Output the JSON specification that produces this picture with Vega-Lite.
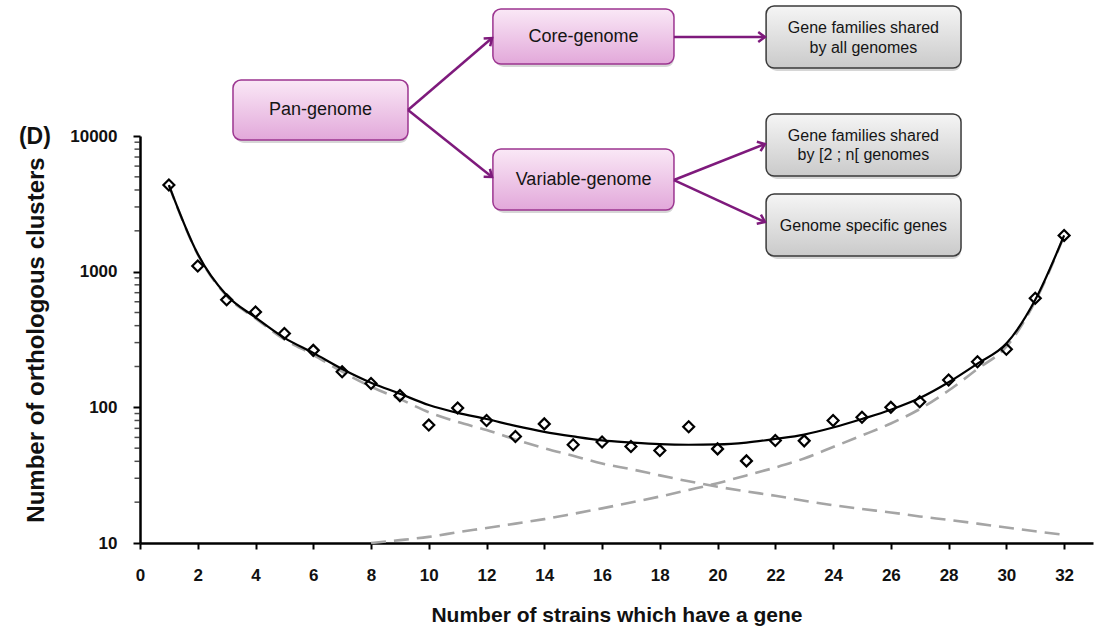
{
  "$schema": "https://vega.github.io/schema/vega-lite/v6.json",
  "width": 953,
  "height": 407,
  "autosize": {"type": "none"},
  "padding": {"left": 140, "top": 136, "right": 9, "bottom": 85},
  "background": "white",
  "config": {
    "view": {"stroke": null},
    "font": "Liberation Sans",
    "axis": {"grid": false, "domainColor": "#000", "tickColor": "#000", "labelColor": "#111", "titleColor": "#111"}
  },
  "datasets": {
    "points": [
      {"strains": 1, "clusters": 4350}, {"strains": 2, "clusters": 1100}, {"strains": 3, "clusters": 620},
      {"strains": 4, "clusters": 505}, {"strains": 5, "clusters": 350}, {"strains": 6, "clusters": 263},
      {"strains": 7, "clusters": 183}, {"strains": 8, "clusters": 150}, {"strains": 9, "clusters": 122},
      {"strains": 10, "clusters": 74}, {"strains": 11, "clusters": 99}, {"strains": 12, "clusters": 80},
      {"strains": 13, "clusters": 61}, {"strains": 14, "clusters": 75.5}, {"strains": 15, "clusters": 53},
      {"strains": 16, "clusters": 55.5}, {"strains": 17, "clusters": 51.5}, {"strains": 18, "clusters": 48},
      {"strains": 19, "clusters": 72}, {"strains": 20, "clusters": 49.4}, {"strains": 21, "clusters": 40.3},
      {"strains": 22, "clusters": 57}, {"strains": 23, "clusters": 56.6}, {"strains": 24, "clusters": 80},
      {"strains": 25, "clusters": 84.5}, {"strains": 26, "clusters": 100}, {"strains": 27, "clusters": 110},
      {"strains": 28, "clusters": 159}, {"strains": 29, "clusters": 217}, {"strains": 30, "clusters": 268},
      {"strains": 31, "clusters": 637}, {"strains": 32, "clusters": 1850}
    ],
    "fit": [
      {"strains": 1, "clusters": 4350}, {"strains": 2, "clusters": 1350}, {"strains": 3, "clusters": 670},
      {"strains": 4, "clusters": 460}, {"strains": 5, "clusters": 325}, {"strains": 6, "clusters": 252},
      {"strains": 7, "clusters": 192}, {"strains": 8, "clusters": 152}, {"strains": 9, "clusters": 126},
      {"strains": 10, "clusters": 104}, {"strains": 11, "clusters": 91}, {"strains": 12, "clusters": 82},
      {"strains": 13, "clusters": 73}, {"strains": 14, "clusters": 66}, {"strains": 15, "clusters": 61},
      {"strains": 16, "clusters": 57}, {"strains": 17, "clusters": 55}, {"strains": 18, "clusters": 53.5},
      {"strains": 19, "clusters": 53}, {"strains": 20, "clusters": 53.3}, {"strains": 21, "clusters": 55},
      {"strains": 22, "clusters": 58.5}, {"strains": 23, "clusters": 63}, {"strains": 24, "clusters": 71},
      {"strains": 25, "clusters": 82}, {"strains": 26, "clusters": 96}, {"strains": 27, "clusters": 117},
      {"strains": 28, "clusters": 153}, {"strains": 29, "clusters": 210}, {"strains": 30, "clusters": 295},
      {"strains": 31, "clusters": 620}, {"strains": 32, "clusters": 1850}
    ],
    "components": [
      {"series": "decreasing", "strains": 1, "clusters": 4345}, {"series": "decreasing", "strains": 2, "clusters": 1340},
      {"series": "decreasing", "strains": 3, "clusters": 662}, {"series": "decreasing", "strains": 4, "clusters": 452},
      {"series": "decreasing", "strains": 5, "clusters": 317}, {"series": "decreasing", "strains": 6, "clusters": 244},
      {"series": "decreasing", "strains": 7, "clusters": 183}, {"series": "decreasing", "strains": 8, "clusters": 142},
      {"series": "decreasing", "strains": 9, "clusters": 115}, {"series": "decreasing", "strains": 10, "clusters": 92},
      {"series": "decreasing", "strains": 11, "clusters": 78}, {"series": "decreasing", "strains": 12, "clusters": 68},
      {"series": "decreasing", "strains": 13, "clusters": 58}, {"series": "decreasing", "strains": 14, "clusters": 50},
      {"series": "decreasing", "strains": 15, "clusters": 44}, {"series": "decreasing", "strains": 16, "clusters": 38.5},
      {"series": "decreasing", "strains": 17, "clusters": 35}, {"series": "decreasing", "strains": 18, "clusters": 31.5},
      {"series": "decreasing", "strains": 19, "clusters": 28.5}, {"series": "decreasing", "strains": 20, "clusters": 26},
      {"series": "decreasing", "strains": 21, "clusters": 24}, {"series": "decreasing", "strains": 22, "clusters": 22.3},
      {"series": "decreasing", "strains": 23, "clusters": 20.5}, {"series": "decreasing", "strains": 24, "clusters": 19},
      {"series": "decreasing", "strains": 25, "clusters": 17.8}, {"series": "decreasing", "strains": 26, "clusters": 16.8},
      {"series": "decreasing", "strains": 27, "clusters": 15.7}, {"series": "decreasing", "strains": 28, "clusters": 14.8},
      {"series": "decreasing", "strains": 29, "clusters": 13.9}, {"series": "decreasing", "strains": 30, "clusters": 13},
      {"series": "decreasing", "strains": 31, "clusters": 12.2}, {"series": "decreasing", "strains": 32, "clusters": 11.5},
      {"series": "increasing", "strains": 8, "clusters": 10}, {"series": "increasing", "strains": 9, "clusters": 10.5},
      {"series": "increasing", "strains": 10, "clusters": 11.1}, {"series": "increasing", "strains": 11, "clusters": 12},
      {"series": "increasing", "strains": 12, "clusters": 12.9}, {"series": "increasing", "strains": 13, "clusters": 13.9},
      {"series": "increasing", "strains": 14, "clusters": 15}, {"series": "increasing", "strains": 15, "clusters": 16.4},
      {"series": "increasing", "strains": 16, "clusters": 18}, {"series": "increasing", "strains": 17, "clusters": 19.9},
      {"series": "increasing", "strains": 18, "clusters": 22}, {"series": "increasing", "strains": 19, "clusters": 24.6},
      {"series": "increasing", "strains": 20, "clusters": 27.6}, {"series": "increasing", "strains": 21, "clusters": 31.5},
      {"series": "increasing", "strains": 22, "clusters": 36}, {"series": "increasing", "strains": 23, "clusters": 42},
      {"series": "increasing", "strains": 24, "clusters": 51}, {"series": "increasing", "strains": 25, "clusters": 62},
      {"series": "increasing", "strains": 26, "clusters": 76}, {"series": "increasing", "strains": 27, "clusters": 97},
      {"series": "increasing", "strains": 28, "clusters": 133}, {"series": "increasing", "strains": 29, "clusters": 192},
      {"series": "increasing", "strains": 30, "clusters": 280}, {"series": "increasing", "strains": 31, "clusters": 605},
      {"series": "increasing", "strains": 32, "clusters": 1835}
    ],
    "minorTicks": [
      {"clusters": 20}, {"clusters": 30}, {"clusters": 40}, {"clusters": 50}, {"clusters": 60}, {"clusters": 70}, {"clusters": 80}, {"clusters": 90},
      {"clusters": 200}, {"clusters": 300}, {"clusters": 400}, {"clusters": 500}, {"clusters": 600}, {"clusters": 700}, {"clusters": 800}, {"clusters": 900},
      {"clusters": 2000}, {"clusters": 3000}, {"clusters": 4000}, {"clusters": 5000}, {"clusters": 6000}, {"clusters": 7000}, {"clusters": 8000}, {"clusters": 9000}
    ],
    "pinkBoxes": [
      {"x": 3.22, "x2": 9.28, "y": 9344, "y2": 25860, "lx": 6.25, "ly": 15546, "label": "Pan-genome"},
      {"x": 12.22, "x2": 18.49, "y": 33930, "y2": 86300, "lx": 15.36, "ly": 53650, "label": "Core-genome"},
      {"x": 12.22, "x2": 18.49, "y": 2848, "y2": 8018, "lx": 15.36, "ly": 4738, "label": "Variable-genome"}
    ],
    "grayBoxes": [
      {"x": 21.68, "x2": 28.43, "y": 31710, "y2": 90820},
      {"x": 21.68, "x2": 28.43, "y": 5071, "y2": 14527},
      {"x": 21.68, "x2": 28.43, "y": 1305, "y2": 3736}
    ],
    "grayText": [
      {"tx": 25.05, "ty": 62520, "text": "Gene families shared"},
      {"tx": 25.05, "ty": 44520, "text": "by all genomes"},
      {"tx": 25.05, "ty": 10000, "text": "Gene families shared"},
      {"tx": 25.05, "ty": 7244, "text": "by  [2 ; n[ genomes"},
      {"tx": 25.05, "ty": 2170, "text": "Genome specific genes"}
    ],
    "arrows": [
      {"x": 9.28, "y": 15546, "x2": 12.19, "y2": 52770, "angle": -40.6},
      {"x": 9.28, "y": 15546, "x2": 12.19, "y2": 4986, "angle": 38.6},
      {"x": 18.49, "y": 53650, "x2": 21.64, "y2": 53650, "angle": 0},
      {"x": 18.49, "y": 4738, "x2": 21.64, "y2": 8730, "angle": -21.4},
      {"x": 18.49, "y": 4738, "x2": 21.64, "y2": 2323, "angle": 24.5}
    ],
    "panel": [{"x": -3.64, "y": 9830, "text": "(D)"}]
  },
  "resolve": {"axis": {"x": "independent", "y": "independent"}},
  "layer": [
    {
      "data": {"name": "pinkBoxes"},
      "mark": {"type": "rect", "fill": "#000", "opacity": 0.16, "cornerRadius": 8, "xOffset": 3, "yOffset": 3},
      "encoding": {
        "x": {"field": "x", "type": "quantitative", "scale": {"domain": [0, 33], "nice": false}, "axis": null},
        "x2": {"field": "x2"},
        "y": {"field": "y", "type": "quantitative", "scale": {"type": "log", "domain": [10, 10000], "nice": false}, "axis": null},
        "y2": {"field": "y2"}
      }
    },
    {
      "data": {"name": "grayBoxes"},
      "mark": {"type": "rect", "fill": "#000", "opacity": 0.16, "cornerRadius": 8, "xOffset": 3, "yOffset": 3},
      "encoding": {
        "x": {"field": "x", "type": "quantitative", "scale": {"domain": [0, 33], "nice": false}, "axis": null},
        "x2": {"field": "x2"},
        "y": {"field": "y", "type": "quantitative", "scale": {"type": "log", "domain": [10, 10000], "nice": false}, "axis": null},
        "y2": {"field": "y2"}
      }
    },
    {
      "data": {"name": "pinkBoxes"},
      "mark": {
        "type": "rect", "cornerRadius": 8, "stroke": "#9c3590", "strokeWidth": 1.5,
        "fill": {"gradient": "linear", "x1": 0, "y1": 0, "x2": 0, "y2": 1,
          "stops": [{"offset": 0, "color": "#fae8f6"}, {"offset": 1, "color": "#e2a8da"}]}
      },
      "encoding": {
        "x": {"field": "x", "type": "quantitative", "scale": {"domain": [0, 33], "nice": false}, "axis": null},
        "x2": {"field": "x2"},
        "y": {"field": "y", "type": "quantitative", "scale": {"type": "log", "domain": [10, 10000], "nice": false}, "axis": null},
        "y2": {"field": "y2"}
      }
    },
    {
      "data": {"name": "grayBoxes"},
      "mark": {
        "type": "rect", "cornerRadius": 8, "stroke": "#3a3a3a", "strokeWidth": 1.5,
        "fill": {"gradient": "linear", "x1": 0, "y1": 0, "x2": 0, "y2": 1,
          "stops": [{"offset": 0, "color": "#f5f5f5"}, {"offset": 1, "color": "#cacaca"}]}
      },
      "encoding": {
        "x": {"field": "x", "type": "quantitative", "scale": {"domain": [0, 33], "nice": false}, "axis": null},
        "x2": {"field": "x2"},
        "y": {"field": "y", "type": "quantitative", "scale": {"type": "log", "domain": [10, 10000], "nice": false}, "axis": null},
        "y2": {"field": "y2"}
      }
    },
    {
      "data": {"name": "arrows"},
      "mark": {"type": "rule", "color": "#7e1a7c", "strokeWidth": 2.5},
      "encoding": {
        "x": {"field": "x", "type": "quantitative", "scale": {"domain": [0, 33], "nice": false}, "axis": null},
        "x2": {"field": "x2"},
        "y": {"field": "y", "type": "quantitative", "scale": {"type": "log", "domain": [10, 10000], "nice": false}, "axis": null},
        "y2": {"field": "y2"}
      }
    },
    {
      "data": {"name": "arrows"},
      "mark": {"type": "point", "shape": "M-1,-0.75L0,0L-1,0.75", "filled": false, "stroke": "#7e1a7c", "strokeWidth": 2.5, "size": 180, "opacity": 1},
      "encoding": {
        "x": {"field": "x2", "type": "quantitative", "scale": {"domain": [0, 33], "nice": false}, "axis": null},
        "y": {"field": "y2", "type": "quantitative", "scale": {"type": "log", "domain": [10, 10000], "nice": false}, "axis": null},
        "angle": {"field": "angle", "type": "quantitative", "scale": null}
      }
    },
    {
      "data": {"name": "pinkBoxes"},
      "mark": {"type": "text", "fontSize": 18, "color": "#151515", "align": "center", "baseline": "middle"},
      "encoding": {
        "x": {"field": "lx", "type": "quantitative", "scale": {"domain": [0, 33], "nice": false}, "axis": null},
        "y": {"field": "ly", "type": "quantitative", "scale": {"type": "log", "domain": [10, 10000], "nice": false}, "axis": null},
        "text": {"field": "label"}
      }
    },
    {
      "data": {"name": "grayText"},
      "mark": {"type": "text", "fontSize": 16, "color": "#151515", "align": "center", "baseline": "middle"},
      "encoding": {
        "x": {"field": "tx", "type": "quantitative", "scale": {"domain": [0, 33], "nice": false}, "axis": null},
        "y": {"field": "ty", "type": "quantitative", "scale": {"type": "log", "domain": [10, 10000], "nice": false}, "axis": null},
        "text": {"field": "text"}
      }
    },
    {
      "data": {"name": "panel"},
      "mark": {"type": "text", "fontSize": 23, "fontWeight": "bold", "color": "#111", "align": "center", "baseline": "middle"},
      "encoding": {
        "x": {"field": "x", "type": "quantitative", "scale": {"domain": [0, 33], "nice": false}, "axis": null},
        "y": {"field": "y", "type": "quantitative", "scale": {"type": "log", "domain": [10, 10000], "nice": false}, "axis": null},
        "text": {"field": "text"}
      }
    },
    {
      "data": {"name": "minorTicks"},
      "mark": {"type": "tick", "orient": "horizontal", "color": "#000", "size": 5, "thickness": 1.5, "xOffset": -3},
      "encoding": {
        "x": {"datum": 0, "type": "quantitative", "scale": {"domain": [0, 33], "nice": false}, "axis": null},
        "y": {"field": "clusters", "type": "quantitative", "scale": {"type": "log", "domain": [10, 10000], "nice": false}, "axis": null}
      }
    },
    {
      "data": {"name": "components"},
      "mark": {"type": "line", "interpolate": "monotone", "color": "#a5a5a5", "strokeWidth": 2.6, "strokeDash": [15, 8]},
      "encoding": {
        "x": {"field": "strains", "type": "quantitative", "scale": {"domain": [0, 33], "nice": false}, "axis": null},
        "y": {"field": "clusters", "type": "quantitative", "scale": {"type": "log", "domain": [10, 10000], "nice": false}, "axis": null},
        "detail": {"field": "series"}
      }
    },
    {
      "data": {"name": "fit"},
      "mark": {"type": "line", "interpolate": "monotone", "color": "#000", "strokeWidth": 2.2},
      "encoding": {
        "x": {"field": "strains", "type": "quantitative", "scale": {"domain": [0, 33], "nice": false}, "axis": null},
        "y": {"field": "clusters", "type": "quantitative", "scale": {"type": "log", "domain": [10, 10000], "nice": false}, "axis": null}
      }
    },
    {
      "data": {"name": "points"},
      "mark": {"type": "point", "shape": "diamond", "filled": false, "stroke": "#000", "strokeWidth": 2.2, "size": 120, "opacity": 1},
      "encoding": {
        "x": {"field": "strains", "type": "quantitative", "scale": {"domain": [0, 33], "nice": false},
          "axis": {"orient": "bottom", "values": [0, 2, 4, 6, 8, 10, 12, 14, 16, 18, 20, 22, 24, 26, 28, 30, 32], "format": "d",
            "labelFontSize": 17, "labelFontWeight": "bold", "labelPadding": 18, "labelFlush": false, "labelOverlap": false,
            "tickSize": 6, "tickWidth": 2, "domainWidth": 2.5,
            "title": "Number of strains  which have a gene", "titleFontSize": 21, "titleFontWeight": "bold", "titlePadding": 21}},
        "y": {"field": "clusters", "type": "quantitative", "scale": {"type": "log", "domain": [10, 10000], "nice": false},
          "axis": {"orient": "left", "values": [10, 100, 1000, 10000], "format": "d",
            "labelFontSize": 17, "labelFontWeight": "bold", "labelPadding": 16, "labelFlush": false, "labelOverlap": false,
            "tickSize": 7, "tickWidth": 2, "domainWidth": 2.5,
            "title": "Number of orthologous clusters", "titleFontSize": 24, "titleFontWeight": "bold", "titlePadding": 21}}
      }
    }
  ]
}
